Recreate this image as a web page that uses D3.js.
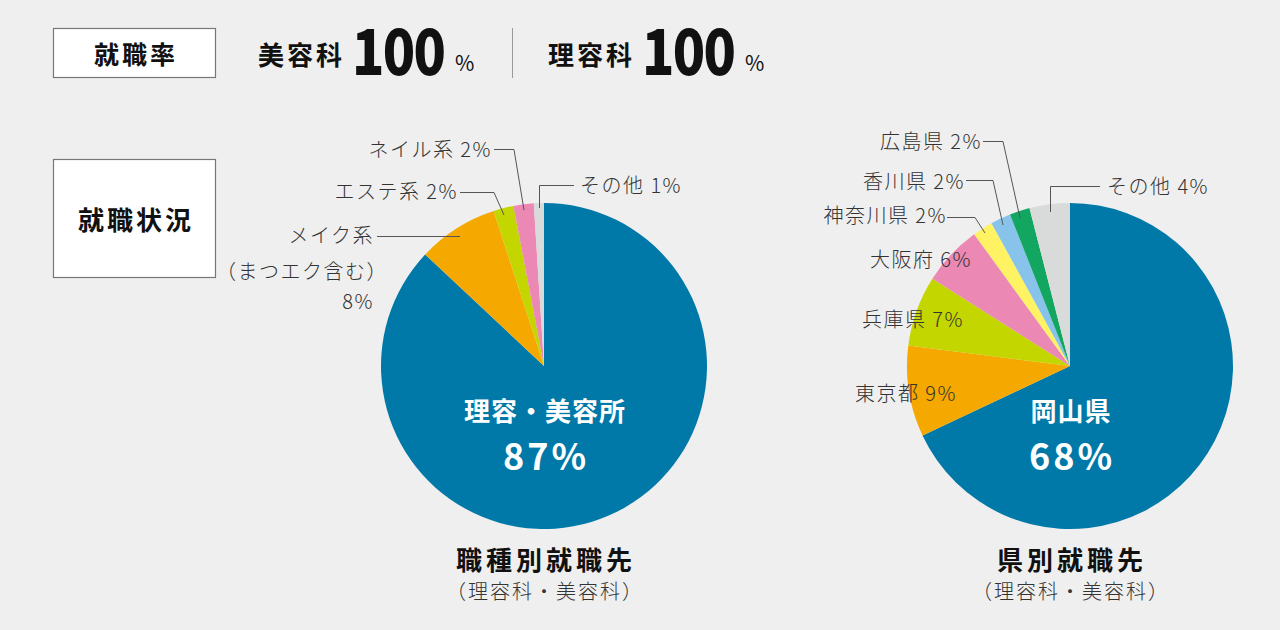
<!DOCTYPE html>
<html lang="ja">
<head>
<meta charset="utf-8">
<script src="https://cdn.jsdelivr.net/npm/d3@7"></script>
<style>
  html, body { margin: 0; padding: 0; background: #efefef; }
  svg { display: block; font-family: "Noto Sans CJK JP", "Noto Sans", sans-serif; }
  .lbl { font-size: 20px; fill: #333; font-weight: 300; letter-spacing: 1.5px; }
  .lead { fill: none; stroke: #555; stroke-width: 1; }
</style>
</head>
<body>
<svg id="chart" width="1280" height="630"></svg>
<script>
// 職種別就職先
const jobNames = ["理容・美容所", "メイク系", "エステ系", "ネイル系", "その他"];
const jobValues = [87, 8, 2, 2, 1];
// 県別就職先
const prefNames = ["岡山県", "東京都", "兵庫県", "大阪府", "神奈川県", "香川県", "広島県", "その他"];
const prefValues = [68, 9, 7, 6, 2, 2, 2, 4];
// 就職率
const rateNames = ["美容科", "理容科"];
const rateValues = [100, 100];

const jobColors = ["#0079a9", "#f5a800", "#c4d600", "#ec88b4", "#d9dada"];
const prefColors = ["#0079a9", "#f5a800", "#c4d600", "#ec88b4", "#fff263", "#87c3ea", "#13a660", "#d9dada"];

const svg = d3.select("#chart");
const R = 163;

// boxes 就職率 / 就職状況
function box(x, y, w, h, text, size) {
  svg.append("rect").attr("x", x).attr("y", y).attr("width", w).attr("height", h)
    .attr("fill", "#fff").attr("stroke", "#777").attr("stroke-width", 1.2);
  svg.append("text").attr("x", x + w / 2 + 1.5).attr("y", y + h / 2)
    .attr("text-anchor", "middle").attr("dominant-baseline", "central")
    .style("font-size", size + "px").style("font-weight", 700).attr("fill", "#111")
    .attr("letter-spacing", "3px")
    .text(text);
}
box(53.5, 28.5, 162, 49, "就職率", 25);
box(53.5, 159.5, 162, 118, "就職状況", 26);

// rates
const rateX = [258, 548];
rateNames.forEach((n, i) => {
  const x = rateX[i];
  svg.append("text").attr("x", x).attr("y", 65).style("font-size", "26px")
    .style("font-weight", 700).attr("fill", "#111").attr("letter-spacing", "3px").text(n);
  svg.append("text").attr("transform", `translate(${x + 94},75) scale(0.86,1)`)
    .style("font-size", "62px").style("font-weight", 900).attr("fill", "#111")
    .attr("letter-spacing", "-2px")
    .text(rateValues[i]);
  svg.append("text").attr("x", x + 197).attr("y", 71).style("font-size", "21px")
    .style("font-weight", 400).attr("fill", "#111").text("%");
});
svg.append("line").attr("x1", 512.5).attr("x2", 512.5).attr("y1", 28).attr("y2", 78)
  .attr("stroke", "#999").attr("stroke-width", 1);

const pie = d3.pie().sort(null).value(d => d);
const arc = d3.arc().innerRadius(0).outerRadius(R);

function drawPie(cx, cy, values, colors, centerName, title) {
  const g = svg.append("g").attr("transform", `translate(${cx},${cy})`);
  g.selectAll("path").data(pie(values)).join("path")
    .attr("d", arc).attr("fill", (d, i) => colors[i]);
  g.append("text").attr("x", 1).attr("y", 55).attr("text-anchor", "middle")
    .style("font-size", "26px").style("font-weight", 700).attr("fill", "#fff")
    .attr("letter-spacing", "1px")
    .text(centerName);
  g.append("text").attr("x", 2).attr("y", 104).attr("text-anchor", "middle")
    .style("font-size", "36px").style("font-weight", 700).attr("fill", "#fff")
    .attr("letter-spacing", "3px")
    .text(values[0] + "%");
  svg.append("text").attr("x", cx + 2).attr("y", 570).attr("text-anchor", "middle")
    .style("font-size", "26px").style("font-weight", 700).attr("fill", "#111")
    .attr("letter-spacing", "4px").text(title);
  svg.append("text").attr("x", cx + 1).attr("y", 599).attr("text-anchor", "middle")
    .style("font-size", "20px").style("font-weight", 300).attr("fill", "#333")
    .attr("letter-spacing", "2px").text("（理容科・美容科）");
}

drawPie(544, 366, jobValues, jobColors, jobNames[0], "職種別就職先");
drawPie(1070, 366, prefValues, prefColors, prefNames[0], "県別就職先");

function label(x, y, text, anchor) {
  svg.append("text").attr("class", "lbl").attr("x", x).attr("y", y)
    .attr("text-anchor", anchor || "end").text(text);
}
function lead(pts) {
  svg.append("path").attr("class", "lead").attr("d", d3.line()(pts));
}

// left labels
label(374, 243, jobNames[1]);
label(388, 279, "（まつエク含む）");
label(374, 309, jobValues[1] + "%");
lead([[377, 236.5], [460, 236.5]]);
label(458, 199, jobNames[2] + " " + jobValues[2] + "%");
lead([[460, 192.5], [494, 192.5], [504, 215]]);
label(492, 157, jobNames[3] + " " + jobValues[3] + "%");
lead([[494, 149.5], [514, 149.5], [524, 210]]);
label(580, 193, jobNames[4] + " " + jobValues[4] + "%", "start");
lead([[539.5, 208], [539.5, 185.5], [574, 185.5]]);

// right labels
label(982, 149, prefNames[6] + " " + prefValues[6] + "%");
lead([[983, 141.5], [1003, 141.5], [1020, 218]]);
label(965, 189, prefNames[5] + " " + prefValues[5] + "%");
lead([[966, 180.5], [993, 180.5], [1003, 225]]);
label(947, 223, prefNames[4] + " " + prefValues[4] + "%");
lead([[947, 217.5], [975, 217.5], [985, 233]]);
label(972, 267, prefNames[3] + " " + prefValues[3] + "%");
label(964, 327, prefNames[2] + " " + prefValues[2] + "%");
label(957, 401, prefNames[1] + " " + prefValues[1] + "%");
label(1107, 194, prefNames[7] + " " + prefValues[7] + "%", "start");
lead([[1050.5, 212], [1050.5, 186.5], [1100, 186.5]]);
</script>
</body>
</html>
